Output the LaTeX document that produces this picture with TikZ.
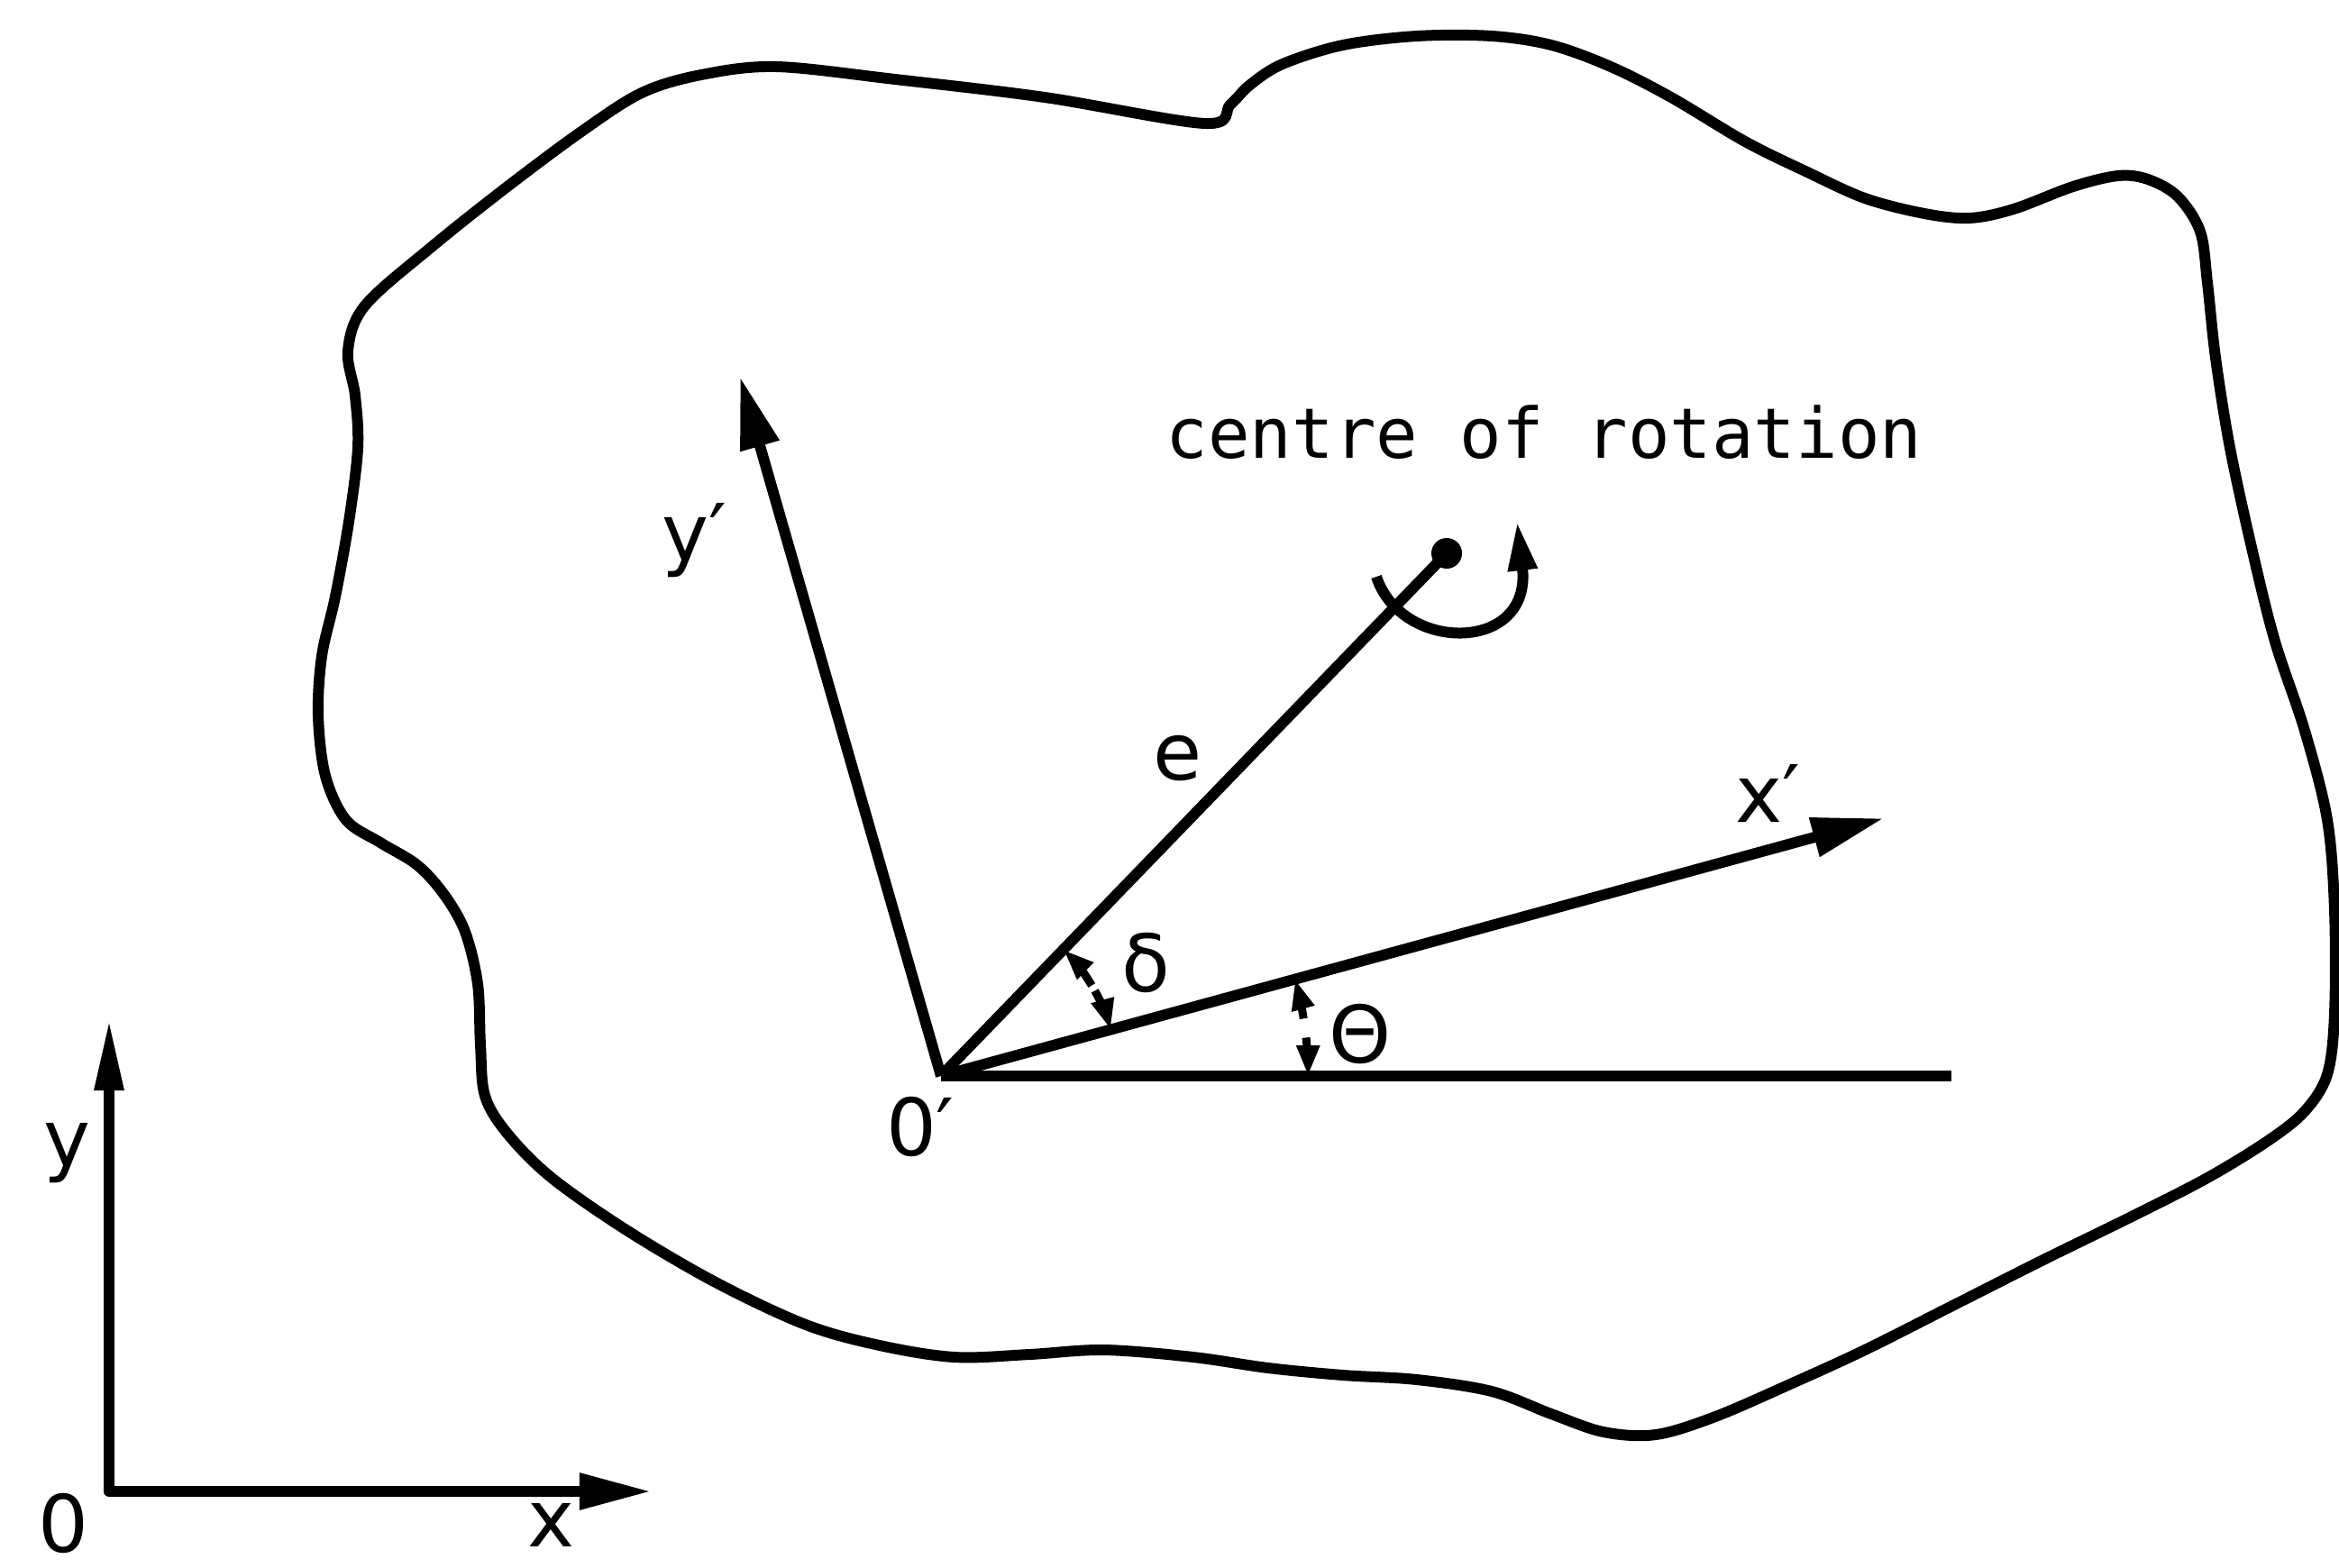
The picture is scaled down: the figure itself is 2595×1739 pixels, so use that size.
\documentclass[tikz,border=0pt]{standalone}
\usepackage{fontspec}
\setmainfont{DejaVu Sans Mono}
\newfontfamily\lblfont{DejaVu Sans}
\usetikzlibrary{arrows.meta}
\begin{document}
\begin{tikzpicture}[x=0.01cm,y=-0.01cm, line width=0.12cm, line join=round,
  lbl/.style={font=\lblfont\fontsize{25}{29}\selectfont, inner sep=0pt},
  bigarrow/.style={-{Triangle[length=0.8cm,width=0.42cm]}},
  markarrow/.style={line width=0.09cm,-{Triangle[length=0.34cm,width=0.24cm]}}]
\useasboundingbox (0,0) rectangle (2595,1739);
% body outline
\draw plot[smooth cycle, tension=0.55] coordinates {
(405,339) (480,273) (563,207) (645,146) (712,103) (778,83) (861,74) (993,88)
(1159,108) (1337,137) (1365,116) (1387,94) (1423,71) (1490,50) (1572,40)
(1655,40) (1721,50) (1787,74) (1854,108) (1936,157) (2003,190) (2069,220)
(2135,237) (2185,242) (2234,232) (2300,207) (2350,195) (2383,199) (2416,218)
(2441,257) (2449,314) (2458,397) (2474,497) (2499,612) (2524,712) (2557,811)
(2582,910) (2590,1010) (2590,1125) (2582,1192) (2557,1233) (2516,1266)
(2449,1307) (2367,1349) (2267,1398) (2168,1448) (2069,1498) (1986,1536)
(1903,1572) (1837,1592) (1779,1589) (1721,1569) (1655,1544) (1572,1531)
(1490,1526) (1407,1518) (1324,1506) (1225,1498) (1142,1503) (1059,1506)
(976,1493) (894,1470) (794,1423) (695,1365) (612,1307) (563,1258) (538,1216)
(533,1159) (530,1092) (516,1034) (493,993) (463,960) (422,935) (384,910)
(361,861) (353,794) (357,728) (372,662) (387,579) (397,497) (394,439) (386,389)};
% local frame
\coordinate (O) at (1044,1194);
\coordinate (hend) at (2165,1194);
\coordinate (xp) at (2090,908);
\coordinate (yp) at (821,418);
\node[circle,fill,inner sep=0pt,minimum size=0.34cm] (c) at (1605,614) {};
\draw (O) -- (hend);
\draw[bigarrow] (O) -- (xp);
\draw[bigarrow] (O) -- (yp);
\draw (O) -- (c.center);
% rotation arrow
\coordinate (r0) at (1527,640);
\coordinate (r1) at (1683,578);
\draw[-{Triangle[length=0.55cm,width=0.3cm]}] (r0) .. controls (1555,725) and (1700,725) .. (r1);
% angle marks
\begin{scope}[shift={(O)},x=1cm,y=1cm]
\draw[markarrow] (31:1.95) arc[start angle=31,end angle=45.9,radius=1.95];
\draw[markarrow] (29:1.95) arc[start angle=29,end angle=15.3,radius=1.95];
\draw[markarrow] (9:4.07) arc[start angle=9,end angle=15.3,radius=4.07];
\draw[markarrow] (6:4.07) arc[start angle=6,end angle=0,radius=4.07];
\end{scope}
% global axes
\coordinate (G) at (121,1655);
\coordinate (gy) at (121,1130);
\coordinate (gx) at (723,1655);
\draw[{Triangle[length=0.8cm,width=0.3cm]}-{Triangle[length=0.8cm,width=0.38cm]}] (gy) -- (G) -- (gx);
% labels
\node[lbl] (lyp) at (770,600) {y′};
\node[lbl] (le) at (1307,841) {e};
\node[lbl] (lxp) at (1961,880) {x′};
\node[lbl] (ld) at (1271,1068) {δ};
\node[lbl] (lt) at (1509,1147) {Θ};
\node[lbl] (lO) at (1021,1250) {0′};
\node[lbl] (ly) at (75,1280) {y};
\node[lbl] (l0) at (70,1690) {0};
\node[lbl] (lx) at (612,1692) {x};
\node[font=\fontsize{22}{26}\selectfont, inner sep=0pt] (cor) at (1713,480) {centre of rotation};
\end{tikzpicture}
\end{document}
